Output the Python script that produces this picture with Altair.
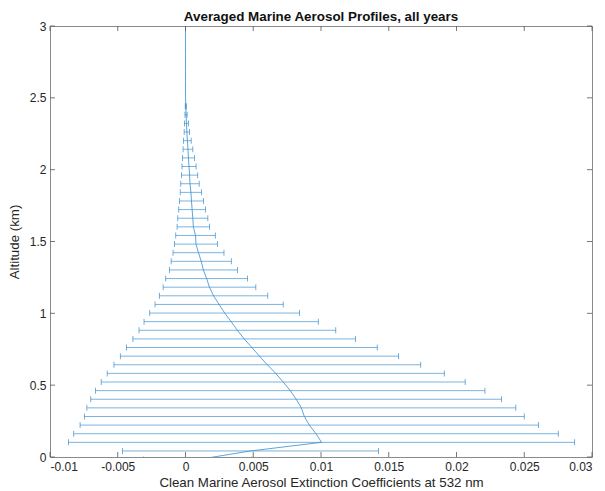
import altair as alt
import pandas as pd

# Altitude bins (km)
altitude_km = [-0.018, 0.042, 0.102, 0.162, 0.222, 0.282, 0.342, 0.402, 0.462, 0.522,
               0.582, 0.642, 0.702, 0.762, 0.822, 0.882, 0.942, 1.002, 1.062, 1.122,
               1.182, 1.242, 1.302, 1.362, 1.422, 1.482, 1.542, 1.602, 1.662, 1.722,
               1.782, 1.842, 1.902, 1.962, 2.022, 2.082, 2.142, 2.202, 2.262, 2.322,
               2.382, 2.442, 2.502, 2.562, 2.622, 2.682, 2.742, 2.802, 2.862, 2.922,
               2.982, 3.042]
# Mean extinction coefficient
mean_ext = [0.0009, 0.0048, 0.01004, 0.00963, 0.00914, 0.00877, 0.00855, 0.00817, 0.00773, 0.00721,
            0.00666, 0.00604, 0.00546, 0.0049, 0.00433, 0.00383, 0.00337, 0.00289, 0.00248, 0.00207,
            0.00177, 0.00156, 0.00132, 0.00116, 0.00096, 0.00077, 0.00074, 0.00058, 0.00054, 0.00049,
            0.00044, 0.0004, 0.00033, 0.0003, 0.00026, 0.00022, 0.00018, 0.00014, 0.0001, 0.00007,
            0.00004, 0.00002, 0.0, 0.0, 0.0, 0.0, 0.0, 0.0, 0.0, 0.0,
            0.0, 0.0]
# Standard deviation (error bar half-width)
std_ext = [0.004, 0.00945, 0.01868, 0.01788, 0.01692, 0.01623, 0.01583, 0.01516, 0.01437, 0.01343,
           0.01244, 0.01132, 0.01027, 0.00925, 0.00821, 0.00726, 0.00643, 0.00553, 0.00473, 0.004,
           0.00342, 0.00302, 0.00251, 0.00222, 0.00188, 0.00158, 0.00146, 0.0012, 0.00111, 0.00099,
           0.00088, 0.00079, 0.00068, 0.0006, 0.00052, 0.00044, 0.00036, 0.00028, 0.0002, 0.00014,
           0.00008, 0.00004, 0.0, 0.0, 0.0, 0.0, 0.0, 0.0, 0.0, 0.0,
           0.0, 0.0]

x_ticks = [-0.01, -0.005, 0, 0.005, 0.01, 0.015, 0.02, 0.025, 0.03]
y_ticks = [0, 0.5, 1, 1.5, 2, 2.5, 3]

df = pd.DataFrame({"alt": altitude_km, "mean": mean_ext, "std": std_ext})
df["lo"] = df["mean"] - df["std"]
df["hi"] = df["mean"] + df["std"]
err = df[df["std"] > 0]

W, H = 542, 431
BLUE = "#2f88cb"
FONT = "Liberation Sans"
XT = "Clean Marine Aerosol Extinction Coefficients at 532 nm"
YT = "Altitude (km)"

xs = alt.Scale(domain=[-0.01, 0.03], nice=False, zero=False)
ys = alt.Scale(domain=[0, 3], nice=False, zero=False)
xaxis = alt.Axis(values=x_ticks, labelExpr="toString(datum.value)", title=XT,
                 titleFontWeight="normal", grid=False, ticks=False, domain=False,
                 labelPadding=4, titlePadding=3)
yaxis = alt.Axis(values=y_ticks, labelExpr="toString(datum.value)", title=YT,
                 titleFontWeight="normal", grid=False, ticks=False, domain=False,
                 labelPadding=4, titlePadding=8)

def X(f):
    return alt.X(f, scale=xs, axis=xaxis, title=XT)

def Y(f):
    return alt.Y(f, scale=ys, axis=yaxis, title=YT)

base_err = alt.Chart(err)
bars = base_err.mark_rule(color=BLUE, strokeWidth=0.8, opacity=0.8, clip=True).encode(
    x=X("lo:Q"), x2="hi:Q", y=Y("alt:Q"))
cap_lo = base_err.mark_tick(color=BLUE, orient="vertical", size=6, thickness=0.8, opacity=0.85,
                            clip=True).encode(x=X("lo:Q"), y=Y("alt:Q"))
cap_hi = base_err.mark_tick(color=BLUE, orient="vertical", size=6, thickness=0.8, opacity=0.85,
                            clip=True).encode(x=X("hi:Q"), y=Y("alt:Q"))
line = alt.Chart(df).mark_line(color=BLUE, strokeWidth=0.9, opacity=0.85, clip=True).encode(
    x=X("mean:Q"), y=Y("alt:Q"), order="alt:Q")

xt = pd.DataFrame({"v": x_ticks})
yt = pd.DataFrame({"w": y_ticks})
TCOL = "#555555"
TL = 5
bot = alt.Chart(xt).mark_rule(color=TCOL, strokeWidth=0.8).encode(
    x=X("v:Q"), y=alt.value(H), y2=alt.value(H - TL))
top = alt.Chart(xt).mark_rule(color=TCOL, strokeWidth=0.8).encode(
    x=X("v:Q"), y=alt.value(0), y2=alt.value(TL))
lef = alt.Chart(yt).mark_rule(color=TCOL, strokeWidth=0.8).encode(
    y=Y("w:Q"), x=alt.value(0), x2=alt.value(TL))
rig = alt.Chart(yt).mark_rule(color=TCOL, strokeWidth=0.8).encode(
    y=Y("w:Q"), x=alt.value(W), x2=alt.value(W - TL))

chart = alt.layer(bars, cap_lo, cap_hi, line, bot, top, lef, rig).properties(
    width=W, height=H,
    title=alt.TitleParams("Averaged Marine Aerosol Profiles, all years", font=FONT,
                          fontSize=13.4, fontWeight="bold", color="#111111", anchor="middle", offset=-3),
    autosize=alt.AutoSizeParams(type="none"),
    padding={"left": 50, "top": 26, "right": 13, "bottom": 34},
).configure(background="white").configure_view(stroke="#8a8a8a", strokeWidth=1).configure_axis(
    labelFont=FONT, labelFontSize=12, labelColor="#262626",
    titleFont=FONT, titleFontSize=13.3, titleFontWeight="normal", titleColor="#262626",
)

chart.save("out.html", embed_options={"renderer": "svg", "actions": False})
